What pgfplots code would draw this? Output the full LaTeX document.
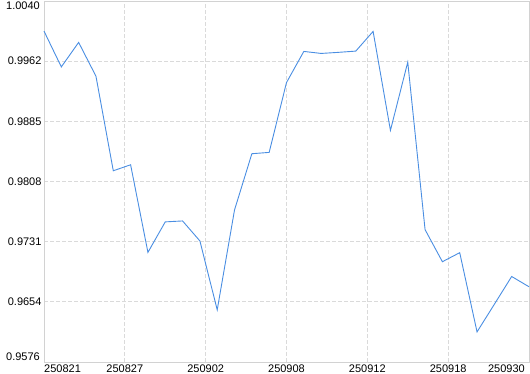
\documentclass[border=0pt]{standalone}
\usepackage{pgfplots}
\pgfplotsset{compat=1.18}
\usepackage{fontspec}
\setmainfont{Liberation Sans}
\definecolor{linec}{RGB}{74,142,226}
\definecolor{gridc}{RGB}{218,218,218}
\definecolor{boxc}{RGB}{210,210,210}
\begin{document}
\begin{tikzpicture}[x=1bp,y=1bp]
\useasboundingbox (-44bp,-12bp) rectangle (486bp,362bp);
\begin{axis}[
  at={(0,0)}, anchor=south west,
  scale only axis, width=485bp, height=361bp,
  xmin=0, xmax=28, ymin=0.9576, ymax=1.0040,
  axis line style={boxc, line width=0.8bp},
  tick style={draw=none},
  grid=major,
  major grid style={gridc, dash pattern=on 3.5bp off 2.5bp, line width=0.7bp},
  xtick={0,4.6667,9.3333,14,18.6667,23.3333,28},
  xticklabels={},
  ytick={0.9576,0.965333,0.973067,0.9808,0.988533,0.996267,1.0040},
  yticklabels={,0.9654,0.9731,0.9808,0.9885,0.9962,},
  yticklabel style={font=\fontsize{11bp}{12bp}\selectfont, xshift=1bp},
  clip=false,
]
\addplot[linec, line width=0.9bp] coordinates {
(0,1.00013) (1,0.99553) (2,0.99868) (3,0.99433) (4,0.98218) (5,0.98295)
(6,0.97169) (7,0.97561) (8,0.97573) (9,0.97316) (10,0.96430) (11,0.97715)
(12,0.98437) (13,0.98454) (14,0.99352) (15,0.99752) (16,0.99726) (17,0.99740)
(18,0.99756) (19,1.00009) (20,0.98737) (21,0.99614) (22,0.97461) (23,0.97049)
(24,0.97165) (25,0.96147) (26,0.96502) (27,0.96859) (28,0.96727)
};
\node[anchor=north east, inner sep=0pt, font=\fontsize{11bp}{12bp}\selectfont] at ([xshift=-4bp,yshift=-1bp]axis cs:0,1.0040) {1.0040};
\node[anchor=south east, inner sep=0pt, font=\fontsize{11bp}{12bp}\selectfont] at ([xshift=-4bp,yshift=1bp]axis cs:0,0.9576) {0.9576};
\end{axis}
\begin{scope}[font=\fontsize{11bp}{12bp}\selectfont]
\node[anchor=north west, inner sep=0pt] at (0,-3bp) {250821};
\node[anchor=north, inner sep=0pt] at (80.83bp,-3bp) {250827};
\node[anchor=north, inner sep=0pt] at (161.67bp,-3bp) {250902};
\node[anchor=north, inner sep=0pt] at (242.5bp,-3bp) {250908};
\node[anchor=north, inner sep=0pt] at (323.33bp,-3bp) {250912};
\node[anchor=north, inner sep=0pt] at (404.17bp,-3bp) {250918};
\node[anchor=north east, inner sep=0pt] at (481bp,-3bp) {250930};
\end{scope}
\end{tikzpicture}
\end{document}
